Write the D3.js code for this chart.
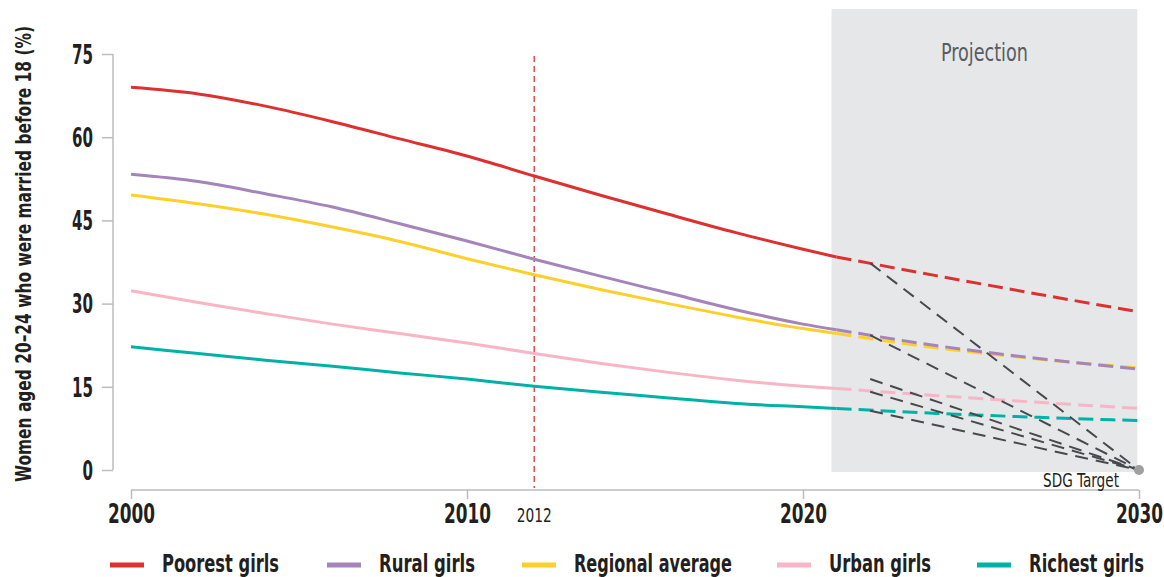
<!DOCTYPE html>
<html>
<head>
<meta charset="utf-8">
<script src="https://cdn.jsdelivr.net/npm/d3@7"></script>
<style>
  html, body { margin: 0; padding: 0; background: #fff; }
  svg { display: block; }
  text { font-family: "DejaVu Sans Condensed", "Liberation Sans", sans-serif; }
</style>
</head>
<body>
<svg id="chart" width="1164" height="577"></svg>
<script>
// ---------- data ----------
const years = [2000, 2002, 2004, 2006, 2008, 2010, 2012, 2014, 2016, 2018, 2020, 2021];
const projYears = [2021, 2024, 2027, 2030];

const poorest      = [69.0, 67.8, 65.6, 62.8, 59.7, 56.6, 53.0, 49.5, 46.1, 42.8, 39.8, 38.4];
const poorestProj  = [38.4, 35.0, 31.7, 28.5];
const rural        = [53.3, 52.0, 49.8, 47.4, 44.4, 41.3, 38.0, 34.9, 31.9, 28.9, 26.3, 25.3];
const ruralProj    = [25.3, 22.4, 20.1, 18.2];
const regional     = [49.6, 48.0, 46.1, 43.8, 41.2, 38.1, 35.2, 32.5, 30.0, 27.6, 25.5, 24.6];
const regionalProj = [24.6, 22.0, 20.0, 18.4];
const urban        = [32.3, 30.2, 28.2, 26.3, 24.6, 22.9, 21.0, 19.2, 17.6, 16.2, 15.1, 14.7];
const urbanProj    = [14.7, 13.4, 12.2, 11.1];
const richest      = [22.2, 21.0, 19.8, 18.7, 17.5, 16.4, 15.1, 14.0, 13.0, 12.0, 11.4, 11.1];
const richestProj  = [11.1, 10.2, 9.5, 8.9];

const seriesNames  = ["Poorest girls", "Rural girls", "Regional average", "Urban girls", "Richest girls"];
const seriesColors = ["#dd3131", "#a584bb", "#fcd02a", "#f8b5c5", "#00b2a6"];

const targetStartYear = 2022;
const targetStarts = [37.3, 24.3, 16.4, 14.1, 10.7];
const targetYear = 2030;
const targetValue = 0;

const projectionStart = 2020.85;
const projectionEnd = 2029.95;
const markerYear = 2012;

const xTicks = [2000, 2010, 2020, 2030];
const yTicks = [0, 15, 30, 45, 60, 75];
const yLabel = "Women aged 20–24 who were married before 18 (%)";

// ---------- layout ----------
const svg = d3.select("#chart");
const x = d3.scaleLinear().domain([2000, 2030]).range([131, 1139]);
const y = d3.scaleLinear().domain([0, 75]).range([470, 54]);
const txt = "#231f20";

// squeeze text to a condensed width
function fit(sel, w) {
  sel.attr("textLength", w).attr("lengthAdjust", "spacingAndGlyphs");
  return sel;
}

// projection band
svg.append("rect")
  .attr("x", x(projectionStart)).attr("y", 9)
  .attr("width", x(projectionEnd) - x(projectionStart))
  .attr("height", y(-0.35) - 9)
  .attr("fill", "#e6e7e8");
fit(svg.append("text")
  .attr("x", (x(projectionStart) + x(projectionEnd)) / 2).attr("y", 61)
  .attr("text-anchor", "middle").attr("font-size", 25)
  .attr("fill", "#575c63").text("Projection"), 87);

// 2012 marker
svg.append("line")
  .attr("x1", x(markerYear)).attr("x2", x(markerYear))
  .attr("y1", 56).attr("y2", 488)
  .attr("stroke", "#dd3131").attr("stroke-width", 1.3)
  .attr("stroke-dasharray", "6,4");
fit(svg.append("text")
  .attr("x", x(markerYear)).attr("y", 522)
  .attr("text-anchor", "middle").attr("font-size", 19)
  .attr("fill", txt).text(markerYear), 35);

// axes
const yAxis = svg.append("g").attr("transform", "translate(113,0)")
  .call(d3.axisLeft(y).tickValues(yTicks).tickSize(11).tickPadding(9));
yAxis.select(".domain").attr("stroke", "#bcbcbc").attr("stroke-width", 1.5)
  .attr("d", `M0,${y(75)}V${y(0)}`);
yAxis.selectAll(".tick line").attr("stroke", "#bcbcbc").attr("stroke-width", 1.5);
yAxis.selectAll(".tick text").attr("font-size", 26).attr("font-weight", "bold")
  .attr("fill", txt).attr("font-family", null).attr("dy", "0.36em")
  .attr("textLength", d => String(d).length * 10.5).attr("lengthAdjust", "spacingAndGlyphs");

const xAxis = svg.append("g").attr("transform", "translate(0,490)")
  .call(d3.axisBottom(x).tickValues(xTicks).tickFormat(d3.format("d")).tickSize(9).tickPadding(6));
xAxis.select(".domain").attr("stroke", "#bcbcbc").attr("stroke-width", 1.5)
  .attr("d", `M${x(2000)},0H${x(2030)}`);
xAxis.selectAll(".tick line").attr("stroke", "#bcbcbc").attr("stroke-width", 1.5);
xAxis.selectAll(".tick text").attr("font-size", 26).attr("font-weight", "bold")
  .attr("fill", txt).attr("font-family", null)
  .attr("textLength", d => String(d).length * 11.75).attr("lengthAdjust", "spacingAndGlyphs");

fit(svg.append("text")
  .attr("transform", "translate(31,254) rotate(-90)")
  .attr("text-anchor", "middle").attr("font-size", 22).attr("font-weight", "bold")
  .attr("fill", txt).text(yLabel), 456);

// series
const hist = [poorest, rural, regional, urban, richest];
const proj = [poorestProj, ruralProj, regionalProj, urbanProj, richestProj];
const drawOrder = [0, 2, 1, 3, 4];
const line = d3.line().x(d => x(d[0])).y(d => y(d[1])).curve(d3.curveMonotoneX);

drawOrder.forEach(i => {
  svg.append("path")
    .datum(years.map((yr, k) => [yr, hist[i][k]]))
    .attr("d", line).attr("fill", "none")
    .attr("stroke", seriesColors[i]).attr("stroke-width", 3);
});
drawOrder.forEach(i => {
  svg.append("path")
    .datum(projYears.map((yr, k) => [yr, proj[i][k]]))
    .attr("d", line).attr("fill", "none")
    .attr("stroke", seriesColors[i]).attr("stroke-width", 3)
    .attr("stroke-dasharray", "15,7");
});

// lines to SDG target
targetStarts.forEach(v => {
  svg.append("line")
    .attr("x1", x(targetStartYear)).attr("y1", y(v))
    .attr("x2", x(targetYear)).attr("y2", y(targetValue))
    .attr("stroke", "#464a4f").attr("stroke-width", 2)
    .attr("stroke-dasharray", "13,8");
});
svg.append("circle")
  .attr("cx", x(targetYear)).attr("cy", y(targetValue)).attr("r", 5)
  .attr("fill", "#a0a0a0");
fit(svg.append("text")
  .attr("x", 1081).attr("y", 487)
  .attr("text-anchor", "middle").attr("font-size", 19)
  .attr("fill", txt).text("SDG Target"), 76);

// legend
const legendSwatchX = [110, 327, 522, 777, 977];
const legendTextW = [117, 96, 158, 102, 115];
const legend = svg.append("g");
seriesNames.forEach((name, i) => {
  legend.append("rect")
    .attr("x", legendSwatchX[i]).attr("y", 562.5)
    .attr("width", 34).attr("height", 5)
    .attr("fill", seriesColors[i]);
  fit(legend.append("text")
    .attr("x", legendSwatchX[i] + 52).attr("y", 572)
    .attr("font-size", 24).attr("font-weight", "bold")
    .attr("fill", txt).text(name), legendTextW[i]);
});
</script>
</body>
</html>
